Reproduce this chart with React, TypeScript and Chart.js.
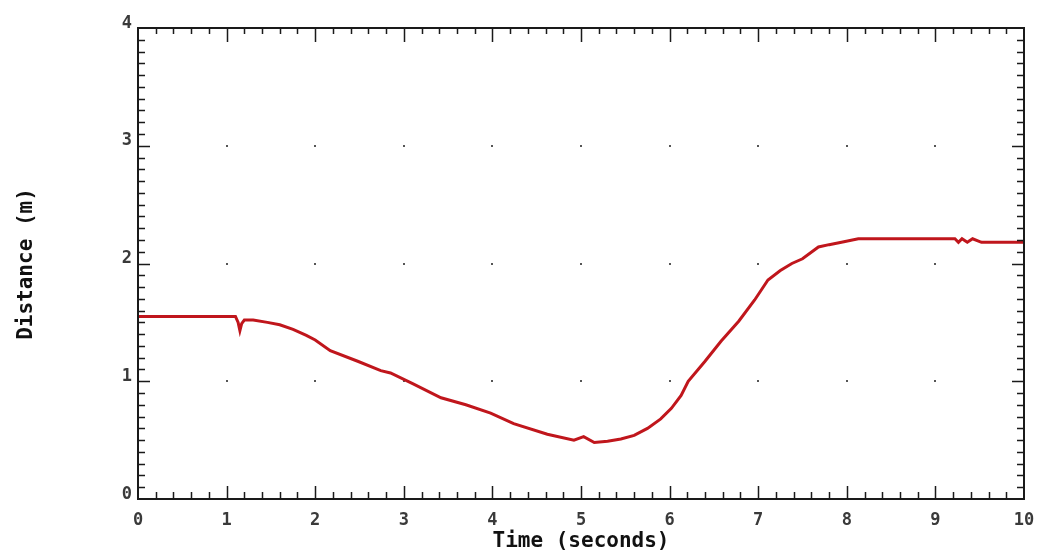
import React, { useEffect, useRef } from "react";
import { Chart, registerables } from "chart.js";

Chart.register(...registerables);

const timeSeconds = [
  0, 1.1, 1.13, 1.15, 1.17, 1.2, 1.3, 1.46, 1.6, 1.75, 1.9, 2.0, 2.17, 2.48, 2.74, 2.85, 3.1, 3.42, 3.7,
  3.98, 4.24, 4.62, 4.92, 5.03, 5.15, 5.3, 5.45, 5.6, 5.75, 5.9, 6.02, 6.13, 6.21, 6.4, 6.58, 6.78,
  6.96, 7.11, 7.25, 7.38, 7.5, 7.68, 7.8, 7.94, 8.13, 9.22, 9.26, 9.3, 9.36, 9.42, 9.52, 10,
];
const distanceM = [
  1.55, 1.55, 1.5, 1.43, 1.49, 1.52, 1.52, 1.5, 1.48, 1.44, 1.39, 1.35, 1.26, 1.17, 1.09, 1.07, 0.98, 0.86,
  0.8, 0.73, 0.64, 0.55, 0.5, 0.53, 0.48, 0.49, 0.51, 0.54, 0.6, 0.68, 0.77, 0.88, 1.0, 1.17, 1.34,
  1.51, 1.69, 1.86, 1.94, 2.0, 2.04, 2.14, 2.16, 2.18, 2.21, 2.21, 2.18, 2.21, 2.18, 2.21, 2.18, 2.18,
];
const xTickLabels = ["0", "1", "2", "3", "4", "5", "6", "7", "8", "9", "10"];
const yTickLabels = ["0", "1", "2", "3", "4"];
const xTitle = "Time (seconds)";
const yTitle = "Distance (m)";

const framePlugin = {
  id: "macFrame",
  beforeDatasetsDraw(chart: any) {
    const ctx = chart.ctx;
    const xs = chart.scales.x;
    const ys = chart.scales.y;
    ctx.save();
    ctx.fillStyle = "#555";
    for (let i = 1; i < xTickLabels.length - 1; i++) {
      for (let j = 1; j < yTickLabels.length - 1; j++) {
        const px = Math.round(xs.getPixelForValue(i));
        const py = Math.round(ys.getPixelForValue(j));
        ctx.fillRect(px - 1, py - 1, 2, 2);
      }
    }
    ctx.restore();
  },
  afterDatasetsDraw(chart: any) {
    const ctx = chart.ctx;
    const a = chart.chartArea;
    const xs = chart.scales.x;
    const ys = chart.scales.y;
    ctx.save();
    ctx.strokeStyle = "#1a1a1a";
    ctx.lineWidth = 2;
    ctx.strokeRect(a.left, a.top, a.right - a.left, a.bottom - a.top);
    ctx.lineWidth = 1.5;
    ctx.beginPath();
    for (let k = 1; k < 50; k++) {
      const v = k * 0.2;
      const px = Math.round(xs.getPixelForValue(v)) + 0.5;
      const major = k % 5 === 0;
      const lb = major ? 13 : 7;
      const lt = major ? 14 : 6;
      ctx.moveTo(px, a.bottom);
      ctx.lineTo(px, a.bottom - lb);
      ctx.moveTo(px, a.top);
      ctx.lineTo(px, a.top + lt);
    }
    for (let k = 1; k < 40; k++) {
      const v = k * 0.1;
      const py = Math.round(ys.getPixelForValue(v)) + 0.5;
      const major = k % 10 === 0;
      const l = major ? 12 : 7;
      ctx.moveTo(a.left, py);
      ctx.lineTo(a.left + l, py);
      ctx.moveTo(a.right, py);
      ctx.lineTo(a.right - l, py);
    }
    ctx.stroke();

    ctx.fillStyle = "#3a3a3a";
    ctx.font = "bold 17px 'DejaVu Sans Mono'";
    ctx.textAlign = "center";
    ctx.textBaseline = "alphabetic";
    xTickLabels.forEach((t, i) => {
      ctx.fillText(t, xs.getPixelForValue(i), 525);
    });
    ctx.textAlign = "right";
    yTickLabels.forEach((t, i) => {
      ctx.fillText(t, 132, ys.getPixelForValue(i) - 0.5);
    });

    ctx.fillStyle = "#111";
    ctx.font = "bold 21px 'DejaVu Sans Mono'";
    ctx.textAlign = "center";
    ctx.fillText(xTitle, (a.left + a.right) / 2, 547);
    ctx.translate(32, 264);
    ctx.rotate(-Math.PI / 2);
    ctx.fillText(yTitle, 0, 0);
    ctx.restore();
  },
};

export default function App() {
  const ref = useRef<HTMLCanvasElement | null>(null);
  useEffect(() => {
    if (!ref.current) return;
    const chart = new Chart(ref.current, {
      type: "line",
      data: {
        datasets: [
          {
            data: timeSeconds.map((t, i) => ({ x: t, y: distanceM[i] })),
            borderColor: "#c0161c",
            borderWidth: 3,
            pointRadius: 0,
            tension: 0,
            fill: false,
          },
        ],
      },
      options: {
        responsive: false,
        animation: false,
        events: [],
        layout: { padding: { left: 138, top: 28, right: 16, bottom: 55 } },
        plugins: { legend: { display: false }, tooltip: { enabled: false } },
        scales: {
          x: { type: "linear", min: 0, max: 10, display: false },
          y: { type: "linear", min: 0, max: 4, display: false },
        },
      },
      plugins: [framePlugin],
    });
    return () => chart.destroy();
  }, []);
  return (
    <div style={{ position: "fixed", left: 0, top: 0, width: 1040, height: 554, background: "#fff" }}>
      <canvas ref={ref} width={1040} height={554} style={{ width: 1040, height: 554 }} />
    </div>
  );
}
